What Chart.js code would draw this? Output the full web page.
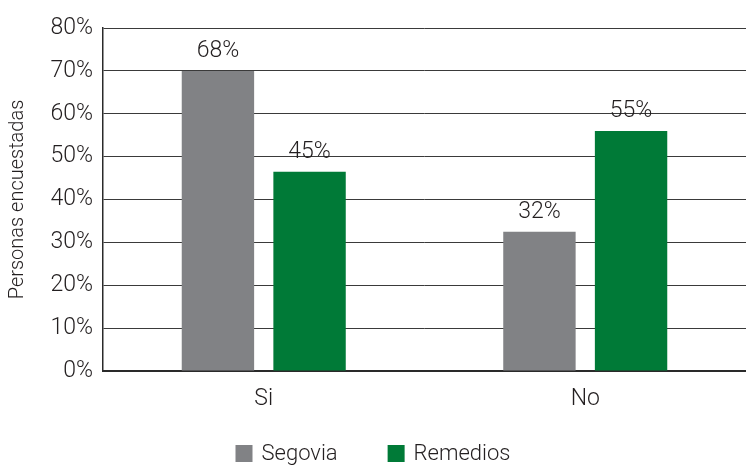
<!DOCTYPE html>
<html>
<head>
<meta charset="utf-8">
<script src="https://cdn.jsdelivr.net/npm/chart.js@4.4.1/dist/chart.umd.min.js"></script>
<style>
  html, body { margin: 0; padding: 0; background: #ffffff; }
  #wrap { width: 746px; height: 467px; }
</style>
</head>
<body>
<div id="wrap"><canvas id="c" width="746" height="467"></canvas></div>
<script>
// ---- data ----
const categories = ['Si', 'No'];
const seriesNames = ['Segovia', 'Remedios'];
const segovia = [70, 32.5];          // bar heights as drawn
const remedios = [46.5, 56];
const segoviaLabels = ['68%', '32%']; // value labels printed above bars
const remediosLabels = ['45%', '55%'];
const yTickValues = [0, 10, 20, 30, 40, 50, 60, 70, 80];
const yTitle = 'Personas encuestadas';

const FONT = 'Roboto, "Liberation Sans", sans-serif';
const WEIGHT = '300';
const TEXT = '#231f20';
const GRAY = '#818285';
const GREEN = '#007a37';

const valueLabels = [segoviaLabels, remediosLabels];

const barLabelPlugin = {
  id: 'barLabels',
  afterDatasetsDraw(chart) {
    const ctx = chart.ctx;
    ctx.save();
    ctx.font = WEIGHT + ' 23px ' + FONT;
    ctx.fillStyle = TEXT;
    ctx.textAlign = 'center';
    ctx.textBaseline = 'alphabetic';
    chart.data.datasets.forEach((ds, di) => {
      const meta = chart.getDatasetMeta(di);
      meta.data.forEach((bar, i) => {
        ctx.fillText(valueLabels[di][i], bar.x, bar.y - 14);
      });
    });
    ctx.restore();
  }
};

const legendPlugin = {
  id: 'bottomLegend',
  afterDraw(chart) {
    const ctx = chart.ctx;
    ctx.save();
    ctx.font = WEIGHT + ' 22px ' + FONT;
    const box = 17, gap = 9, spacing = 50;
    const items = chart.data.datasets.map(ds => ({
      text: ds.label, color: ds.backgroundColor, w: ctx.measureText(ds.label).width
    }));
    let total = 0;
    items.forEach((it, i) => { total += box + gap + it.w + (i > 0 ? spacing : 0); });
    let x = chart.width / 2 - total / 2;
    const yTop = 445, yMid = 454;
    items.forEach((it, i) => {
      if (i > 0) x += spacing;
      ctx.fillStyle = it.color;
      ctx.fillRect(x, yTop, box, box);
      x += box + gap;
      ctx.fillStyle = TEXT;
      ctx.textAlign = 'left';
      ctx.textBaseline = 'middle';
      ctx.fillText(it.text, x, yMid);
      x += it.w;
    });
    ctx.restore();
  }
};

new Chart(document.getElementById('c'), {
  type: 'bar',
  data: {
    labels: categories,
    datasets: [
      { label: seriesNames[0], data: segovia, backgroundColor: GRAY, borderWidth: 0,
        categoryPercentage: 0.57, barPercentage: 0.79 },
      { label: seriesNames[1], data: remedios, backgroundColor: GREEN, borderWidth: 0,
        categoryPercentage: 0.57, barPercentage: 0.79 }
    ]
  },
  options: {
    responsive: false,
    animation: false,
    devicePixelRatio: 1,
    layout: { padding: { top: 28, right: 0, bottom: 0, left: 0 } },
    plugins: {
      legend: { display: false },
      tooltip: { enabled: false },
      title: { display: false }
    },
    scales: {
      x: {
        grid: { display: false, drawTicks: false },
        border: { display: true, color: '#2a2a2a', width: 2 },
        ticks: { font: { family: FONT, size: 23, weight: WEIGHT }, color: TEXT, padding: 14 },
        afterFit(scale) { scale.height = 96; }
      },
      y: {
        min: 0, max: 80,
        afterBuildTicks(scale) { scale.ticks = yTickValues.map(v => ({ value: v })); },
        ticks: {
          font: { family: FONT, size: 23, weight: WEIGHT }, color: TEXT, padding: 10,
          callback: v => v + '%'
        },
        grid: { color: '#3a3a3a', lineWidth: 1, drawTicks: false },
        border: { display: true, color: '#2a2a2a', width: 1.5 },
        title: {
          display: true, text: yTitle, color: TEXT,
          font: { family: FONT, size: 20, weight: WEIGHT }, padding: { top: 6, bottom: 0 }
        },
        afterFit(scale) { scale.width = 103; }
      }
    }
  },
  plugins: [barLabelPlugin, legendPlugin]
});
</script>
</body>
</html>
